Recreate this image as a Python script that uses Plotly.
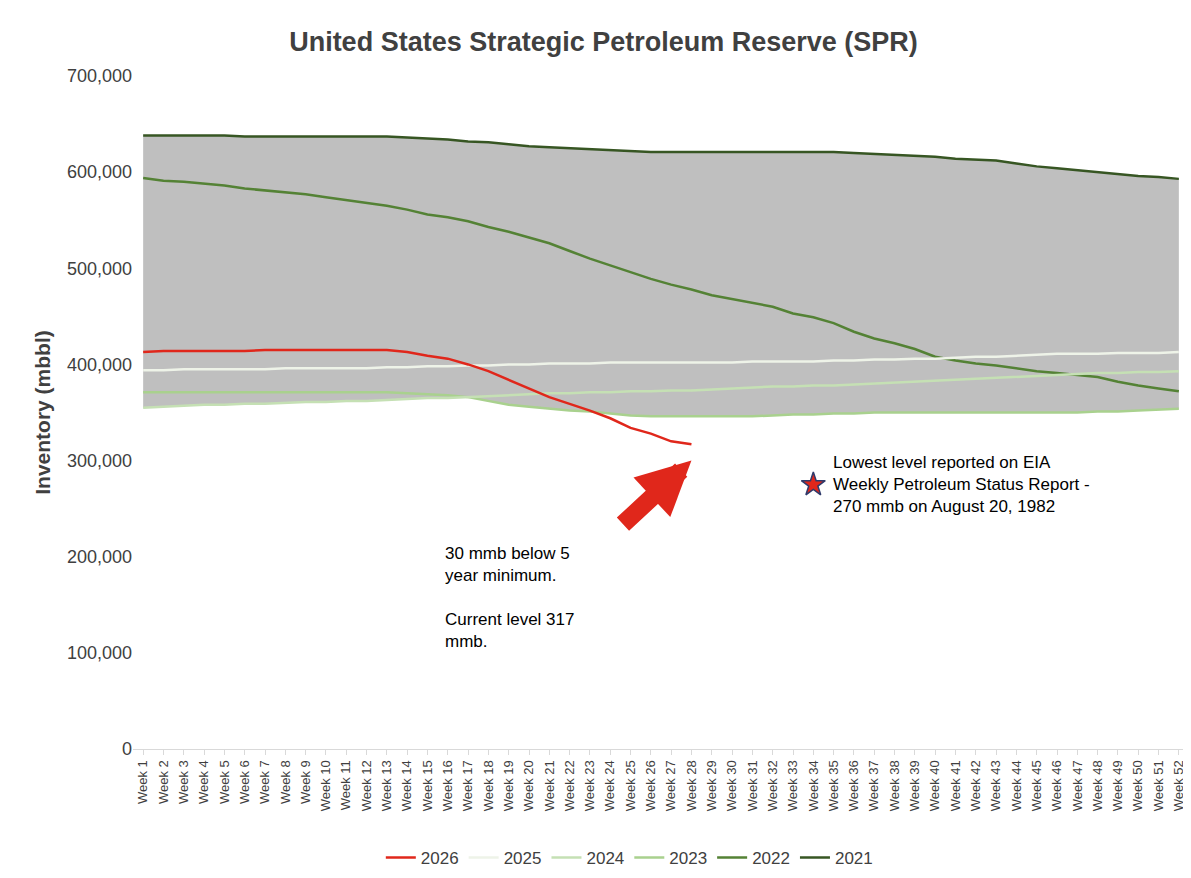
import plotly.graph_objects as go

weeks = [f"Week {i}" for i in range(1, 53)]

# Weekly SPR inventory, thousand barrels
spr = {
    "2021": [638, 638, 638, 638, 638, 637, 637, 637, 637, 637, 637, 637, 637, 636, 635, 634, 632, 631,
             629, 627, 626, 625, 624, 623, 622, 621, 621, 621, 621, 621, 621, 621, 621, 621, 621, 620,
             619, 618, 617, 616, 614, 613, 612, 609, 606, 604, 602, 600, 598, 596, 595, 593],
    "2022": [594, 591, 590, 588, 586, 583, 581, 579, 577, 574, 571, 568, 565, 561, 556, 553, 549, 543,
             538, 532, 526, 518, 510, 503, 496, 489, 483, 478, 472, 468, 464, 460, 453, 449, 443, 434,
             427, 422, 416, 408, 404, 401, 399, 396, 393, 391, 389, 387, 382, 378, 375, 372],
    "2023": [371, 371, 371, 371, 371, 371, 371, 371, 371, 371, 371, 371, 371, 370, 369, 368, 366, 362,
             358, 356, 354, 352, 351, 349, 347, 346, 346, 346, 346, 346, 346, 347, 348, 348, 349, 349,
             350, 350, 350, 350, 350, 350, 350, 350, 350, 350, 350, 351, 351, 352, 353, 354],
    "2024": [355, 356, 357, 358, 358, 359, 359, 360, 361, 361, 362, 362, 363, 364, 365, 365, 366, 367,
             368, 369, 370, 370, 371, 371, 372, 372, 373, 373, 374, 375, 376, 377, 377, 378, 378, 379,
             380, 381, 382, 383, 384, 385, 386, 387, 388, 389, 390, 391, 391, 392, 392, 393],
    "2025": [394, 394, 395, 395, 395, 395, 395, 396, 396, 396, 396, 396, 397, 397, 398, 398, 399, 399,
             400, 400, 401, 401, 401, 402, 402, 402, 402, 402, 402, 402, 403, 403, 403, 403, 404, 404,
             405, 405, 406, 406, 407, 408, 408, 409, 410, 411, 411, 411, 412, 412, 412, 413],
    "2026": [413, 414, 414, 414, 414, 414, 415, 415, 415, 415, 415, 415, 415, 413, 409, 406, 400, 393,
             384, 375, 366, 359, 352, 344, 334, 328, 320, 317],
}
colors = {"2026": "#e0271b", "2025": "#eef3e8", "2024": "#c5e0b4", "2023": "#a9d18e",
          "2022": "#548235", "2021": "#375623"}

band_hi = [max(spr[y][i] for y in ["2021", "2022", "2023", "2024", "2025"]) * 1000 for i in range(52)]
band_lo = [min(spr[y][i] for y in ["2021", "2022", "2023", "2024", "2025"]) * 1000 for i in range(52)]

fig = go.Figure()
fig.add_trace(go.Scatter(x=weeks, y=band_lo, mode="lines", line=dict(width=0), showlegend=False, hoverinfo="skip"))
fig.add_trace(go.Scatter(x=weeks, y=band_hi, mode="lines", line=dict(width=0), fill="tonexty",
                         fillcolor="#bfbfbf", showlegend=False, hoverinfo="skip"))
for year in ["2026", "2025", "2024", "2023", "2022", "2021"][::-1]:
    fig.add_trace(go.Scatter(x=weeks[:len(spr[year])], y=[v * 1000 for v in spr[year]], mode="lines",
                             name=year, line=dict(color=colors[year], width=2.5)))

fig.add_trace(go.Scatter(x=["Week 34"], y=[275000], mode="markers", showlegend=False,
                         marker=dict(symbol="star", size=18, color="#e0271b", line=dict(color="#2f3a6b", width=1.5))))

fig.add_annotation(x="Week 34", y=275000, xshift=18, text="Lowest level reported on EIA<br>Weekly Petroleum Status Report -<br>270 mmb on August 20, 1982",
                   showarrow=False, xanchor="left", align="left", font=dict(size=17, color="black"))
fig.add_annotation(x="Week 16", y=215000, xshift=-5, text="30 mmb below 5<br>year minimum.<br><br>Current level 317<br>mmb.",
                   showarrow=False, xanchor="left", yanchor="top", align="left", font=dict(size=17, color="black"))
# Block arrow pointing at the latest 2026 value
fig.add_annotation(x="Week 28", y=300000, ax=-70, ay=65, showarrow=True, arrowhead=2, arrowsize=0.6,
                   arrowwidth=18, arrowcolor="#e0271b", text="")

fig.update_layout(
    title=dict(text="<b>United States Strategic Petroleum Reserve (SPR)</b>", x=0.5, y=0.972,
               font=dict(size=27, color="#404040")),
    template="plotly_white",
    font=dict(family="Liberation Sans, Arial", size=18, color="#404040"),
    xaxis=dict(tickangle=-90, tickfont=dict(size=13), showgrid=False, showline=True, linecolor="#d9d9d9",
               ticks="outside", tickcolor="#d9d9d9", range=[-0.5, 51.5]),
    yaxis=dict(title=dict(text="<b>Inventory (mbbl)</b>", font=dict(size=21, color="#404040"), standoff=10),
               range=[0, 700000], dtick=100000, tickformat=",", showgrid=False, zeroline=False),
    legend=dict(orientation="h", x=0.47, xanchor="center", y=-0.135, font=dict(size=17),
                traceorder="reversed"),
    margin=dict(l=125, r=10, t=68, b=123),
    width=1191,
    height=878,
)

fig.write_html("out.html")
